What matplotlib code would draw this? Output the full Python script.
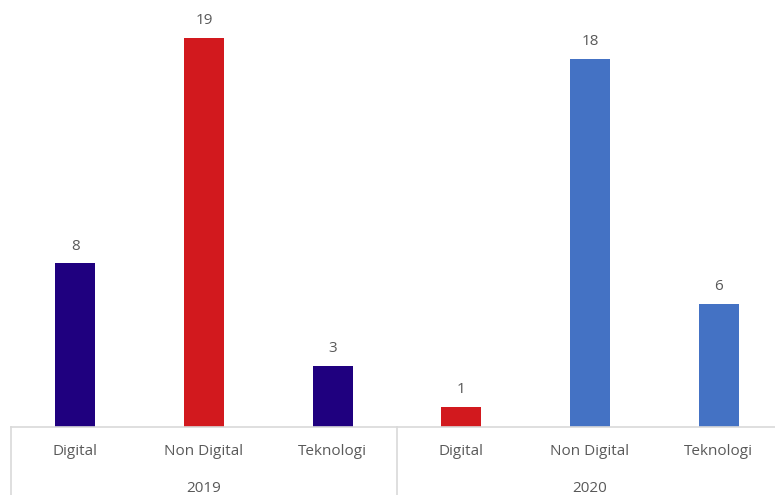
import matplotlib.pyplot as plt

years = ["2019", "2020"]
categories = ["Digital", "Non Digital", "Teknologi"]
values_2019 = [8, 19, 3]
values_2020 = [1, 18, 6]
colors_2019 = ["#1F007F", "#D2191E", "#1F007F"]
colors_2020 = ["#D2191E", "#4472C4", "#4472C4"]

plt.rcParams['font.family'] = ['Open Sans', 'DejaVu Sans']
text_color = "#595959"
line_color = "#D9D9D9"

fig = plt.figure(figsize=(7.75, 4.95), dpi=100)
ax = fig.add_axes([11 / 775, 68 / 495, 772 / 775, 427 / 495])

values = values_2019 + values_2020
colors = colors_2019 + colors_2020
labels = categories * len(years)
xs = list(range(len(values)))

bars = ax.bar(xs, values, width=0.31, color=colors)
for x, v in zip(xs, values):
    ax.annotate(str(v), (x, v), xytext=(0, 7), textcoords="offset points",
                ha="center", va="bottom", fontsize=11, color=text_color)

ax.set_xlim(-0.5, len(values) - 0.5)
ax.set_ylim(0, 20.86)
for side in ["top", "left", "right"]:
    ax.spines[side].set_visible(False)
ax.spines["bottom"].set_color(line_color)
ax.spines["bottom"].set_linewidth(1.2)
ax.set_xticks([])
ax.set_yticks([])

# two-level category axis: names, years, and group separators
trans = ax.get_xaxis_transform()
for x, lab in zip(xs, labels):
    ax.text(x, -0.058, lab, transform=trans, ha="center", va="center",
            fontsize=11, color=text_color)
for i, yr in enumerate(years):
    ax.text(i * 3 + 1, -0.145, yr, transform=trans, ha="center", va="center",
            fontsize=11, color=text_color)
for xb in [-0.5, 2.5, 5.5]:
    ax.plot([xb, xb], [0, -0.16], transform=trans, color=line_color,
            linewidth=1.2, clip_on=False)

fig.savefig("out.png", dpi=100)
